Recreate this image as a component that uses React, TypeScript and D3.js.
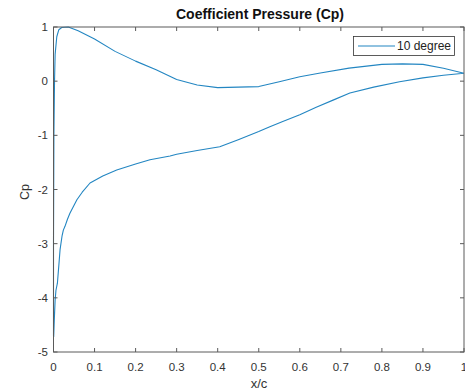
import React, { useRef, useEffect } from "react";
import * as d3 from "d3";

// x/c positions, running from trailing edge over the pressure side, round the nose, back along suction side
const xc = [
  1.0, 0.95, 0.9, 0.85, 0.8, 0.72, 0.65, 0.6, 0.55, 0.5, 0.45, 0.4, 0.35, 0.3, 0.25, 0.2, 0.15, 0.1,
  0.06, 0.036, 0.02, 0.013, 0.008, 0.004, 0.0025, 0.001, 0.0, 0.0,
  0.0005, 0.002, 0.004, 0.006, 0.0095, 0.013, 0.016, 0.021, 0.024, 0.028, 0.034, 0.04, 0.057, 0.07,
  0.089, 0.12, 0.154, 0.2, 0.235, 0.284, 0.3, 0.35, 0.405, 0.45, 0.5, 0.527, 0.56, 0.6, 0.64, 0.681,
  0.722, 0.78, 0.843, 0.9, 0.95, 1.0,
];
const cp = [
  0.146, 0.24, 0.31, 0.32, 0.31, 0.24, 0.15, 0.08, -0.01, -0.1, -0.11, -0.12, -0.07, 0.03, 0.21, 0.37, 0.55, 0.78,
  0.93, 1.0, 0.99, 0.95, 0.82, 0.5, 0.0, -1.0, -3.0, -4.7,
  -4.72, -4.4, -4.04, -3.86, -3.73, -3.4, -3.11, -2.85, -2.75, -2.68, -2.55, -2.44, -2.19, -2.05,
  -1.88, -1.75, -1.64, -1.53, -1.45, -1.38, -1.35, -1.28, -1.21, -1.08, -0.93, -0.84, -0.74, -0.62, -0.48, -0.35,
  -0.22, -0.11, -0.01, 0.06, 0.11, 0.146,
];
const xTicks = [0, 0.1, 0.2, 0.3, 0.4, 0.5, 0.6, 0.7, 0.8, 0.9, 1];
const yTicks = [-5, -4, -3, -2, -1, 0, 1];
const seriesName = "10 degree";

export default function App() {
  const ref = useRef<SVGSVGElement | null>(null);

  useEffect(() => {
    if (!ref.current) return;
    const svg = d3.select(ref.current);
    svg.selectAll("*").remove();

    const left = 53.5, right = 464, top = 27, bottom = 352;
    const x = d3.scaleLinear().domain([0, 1]).range([left, right]);
    const y = d3.scaleLinear().domain([-5, 1]).range([bottom, top]);
    const axisColor = "#5a5a5a";
    const lineColor = "#2386c2";
    const font = "Liberation Sans, Arial, sans-serif";

    // Kurve
    const line = d3
      .line<number>()
      .x((_, i) => x(xc[i]))
      .y((d) => y(d));
    svg.append("path")
      .datum(cp)
      .attr("d", line)
      .attr("fill", "none")
      .attr("stroke", lineColor)
      .attr("stroke-width", 1.1)
      .attr("stroke-linejoin", "round");

    // Rahmen
    svg.append("rect")
      .attr("x", left).attr("y", top)
      .attr("width", right - left).attr("height", bottom - top)
      .attr("fill", "none").attr("stroke", axisColor).attr("stroke-width", 1);

    const tl = 4;
    xTicks.forEach((t) => {
      svg.append("line").attr("x1", x(t)).attr("x2", x(t)).attr("y1", bottom).attr("y2", bottom - tl)
        .attr("stroke", axisColor);
      svg.append("line").attr("x1", x(t)).attr("x2", x(t)).attr("y1", top).attr("y2", top + tl)
        .attr("stroke", axisColor);
      svg.append("text").attr("x", x(t)).attr("y", bottom + 19)
        .attr("text-anchor", "middle").attr("font-family", font).attr("font-size", 11.5)
        .attr("fill", "#333").text(String(t));
    });
    yTicks.forEach((t) => {
      svg.append("line").attr("x1", left).attr("x2", left + tl).attr("y1", y(t)).attr("y2", y(t))
        .attr("stroke", axisColor);
      svg.append("line").attr("x1", right).attr("x2", right - tl).attr("y1", y(t)).attr("y2", y(t))
        .attr("stroke", axisColor);
      svg.append("text").attr("x", left - 5.5).attr("y", y(t) + 4)
        .attr("text-anchor", "end").attr("font-family", font).attr("font-size", 11.5)
        .attr("fill", "#333").text(String(t));
    });

    // Beschriftungen
    svg.append("text").attr("x", 260).attr("y", 19)
      .attr("text-anchor", "middle").attr("font-family", font).attr("font-size", 14)
      .attr("font-weight", "bold").attr("fill", "#111").text("Coefficient Pressure (Cp)");
    svg.append("text").attr("x", 259).attr("y", 388)
      .attr("text-anchor", "middle").attr("font-family", font).attr("font-size", 13)
      .attr("fill", "#333").text("x/c");
    svg.append("text")
      .attr("transform", `translate(29, 192) rotate(-90)`)
      .attr("text-anchor", "middle").attr("font-family", font).attr("font-size", 12.5)
      .attr("fill", "#333").text("Cp");

    // Legende
    const lg = svg.append("g");
    lg.append("rect").attr("x", 353.5).attr("y", 36.5).attr("width", 101).attr("height", 19)
      .attr("fill", "white").attr("stroke", "#333").attr("stroke-width", 0.8);
    lg.append("line").attr("x1", 358).attr("x2", 395).attr("y1", 46).attr("y2", 46)
      .attr("stroke", lineColor).attr("stroke-width", 1.1);
    lg.append("text").attr("x", 397).attr("y", 50).attr("font-family", font).attr("font-size", 12)
      .attr("fill", "#222").text(seriesName);
  }, []);

  return (
    <div style={{ position: "absolute", left: 0, top: 0 }}>
      <svg ref={ref} width={465} height={391} style={{ display: "block", background: "white" }} />
    </div>
  );
}
